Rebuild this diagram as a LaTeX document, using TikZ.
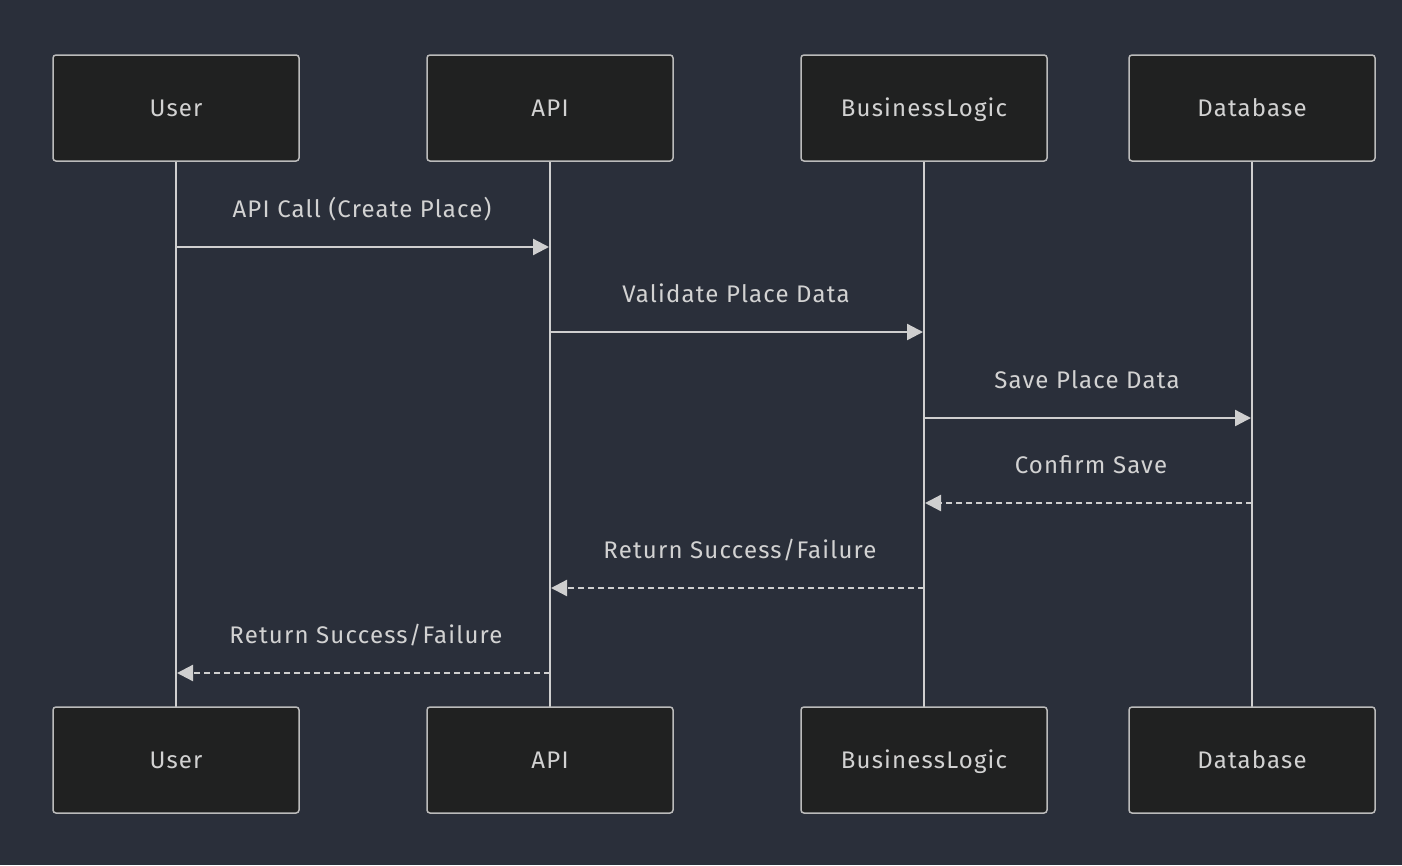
\documentclass[tikz,border=0pt]{standalone}
\usepackage{fontspec}
\setmainfont{Fira Sans}[LetterSpace=5]
\usetikzlibrary{arrows.meta}
\definecolor{bg}{HTML}{2A2F3A}
\definecolor{boxfill}{HTML}{202121}
\definecolor{boxline}{HTML}{BBBBBB}
\definecolor{ink}{HTML}{D2D2D2}
\definecolor{wire}{HTML}{CFCFCF}
\begin{document}
\begin{tikzpicture}[x=1pt,y=-1pt,
  actor/.style={draw=boxline, fill=boxfill, line width=1.5pt, rounded corners=3pt,
    minimum width=246pt, minimum height=106pt, inner sep=0pt,
    text height=16pt, text depth=0pt,
    text=ink, font=\fontsize{24}{28}\selectfont},
  lifeline/.style={draw=wire, line width=2.8pt},
  msg/.style={draw=wire, line width=2.3pt, -{Triangle[length=16pt,width=16pt]}},
  reply/.style={msg, dash pattern=on 6pt off 4pt},
  lbl/.style={text=ink, font=\fontsize{24}{28}\selectfont, inner sep=0pt,
    text height=16pt, text depth=0pt}]
\fill[bg] (0,0) rectangle (1402,865);
\useasboundingbox (0,0) rectangle (1402,865);
% lifelines
\coordinate (uT) at (176,161); \coordinate (uB) at (176,707);
\coordinate (aT) at (550,161); \coordinate (aB) at (550,707);
\coordinate (bT) at (924,161); \coordinate (bB) at (924,707);
\coordinate (dT) at (1252,161); \coordinate (dB) at (1252,707);
\draw[lifeline] (uT) -- (uB);
\draw[lifeline] (aT) -- (aB);
\draw[lifeline] (bT) -- (bB);
\draw[lifeline] (dT) -- (dB);
% actors
\node[actor] (u1) at (176,108) {User};
\node[actor] (a1) at (550,108) {API};
\node[actor] (b1) at (924,108) {BusinessLogic};
\node[actor] (d1) at (1252,108) {Database};
\node[actor] (u2) at (176,760) {User};
\node[actor] (a2) at (550,760) {API};
\node[actor] (b2) at (924,760) {BusinessLogic};
\node[actor] (d2) at (1252,760) {Database};
% message endpoints
\coordinate (m1s) at (176,247); \coordinate (m1e) at (549,247);
\coordinate (m2s) at (550,332); \coordinate (m2e) at (923,332);
\coordinate (m3s) at (924,418); \coordinate (m3e) at (1251,418);
\coordinate (m4s) at (1252,503); \coordinate (m4e) at (925,503);
\coordinate (m5s) at (924,588); \coordinate (m5e) at (551,588);
\coordinate (m6s) at (550,673); \coordinate (m6e) at (177,673);
\draw[msg] (m1s) -- (m1e);
\draw[msg] (m2s) -- (m2e);
\draw[msg] (m3s) -- (m3e);
\draw[reply] (m4s) -- (m4e);
\draw[reply] (m5s) -- (m5e);
\draw[reply] (m6s) -- (m6e);
% labels
\node[lbl] (l1) at (362,209) {API Call (Create Place)};
\node[lbl] (l2) at (736,294) {Validate Place Data};
\node[lbl] (l3) at (1087,380) {Save Place Data};
\node[lbl] (l4) at (1091,465) {Confirm Save};
\node[lbl] (l5) at (740,550) {Return Success/Failure};
\node[lbl] (l6) at (366,635) {Return Success/Failure};
\end{tikzpicture}
\end{document}
